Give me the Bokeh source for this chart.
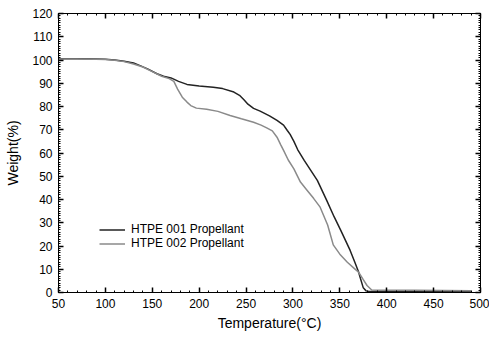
from bokeh.plotting import figure
from bokeh.models import (Range1d, LinearAxis, SingleIntervalTicker, Legend, LegendItem,
                          CustomLabelingPolicy)
from bokeh.embed import file_html
from bokeh.resources import INLINE

# ---- data ----
temp_001 = [50, 70, 90, 100, 110, 120, 130, 137, 145, 155, 162, 170, 178, 187, 200, 215, 225,
            237, 243, 248, 252, 258, 265, 275, 283, 290, 294, 297, 301, 305, 312, 319, 326,
            336, 344, 351, 361, 366, 370, 372, 375, 378, 381, 385, 400, 430, 460, 490]
weight_001 = [100.5, 100.5, 100.4, 100.3, 100.0, 99.5, 98.7, 97.6, 96.2, 94.1, 93.0, 92.3,
              90.8, 89.5, 88.8, 88.3, 87.7, 86.2, 84.8, 82.8, 81.0, 79.2, 78.0, 76.0, 74.0,
              72.0, 69.7, 68.0, 65.0, 61.5, 56.8, 52.5, 48.2, 39.6, 32.5, 26.7, 18.1, 13.0,
              8.8, 6.0, 2.0, 0.7, 0.4, 0.4, 0.5, 0.5, 0.5, 0.4]

temp_002 = [50, 70, 90, 100, 110, 120, 130, 140, 150, 160, 168, 173, 177, 182, 187, 191, 197,
            208, 220, 233, 245, 258, 266, 272, 278, 283, 287, 290, 295, 301, 308, 315, 322,
            329, 337, 343, 350, 358, 365, 370, 375, 379, 384, 390, 400, 430, 460, 490]
weight_002 = [100.4, 100.4, 100.3, 100.2, 99.9, 99.3, 98.3, 97.0, 95.0, 93.0, 92.0, 90.8,
              87.5, 84.0, 81.9, 80.4, 79.3, 78.8, 77.9, 76.1, 74.7, 73.2, 72.0, 70.8, 69.5,
              66.8, 63.5, 61.1, 57.0, 53.2, 47.5, 44.0, 40.5, 36.7, 29.0, 20.5, 16.5, 13.0,
              10.5, 8.7, 5.5, 3.0, 1.1, 1.0, 1.0, 1.0, 0.9, 0.8]

series_names = ["HTPE 001 Propellant", "HTPE 002 Propellant"]
x_label = "Temperature(°C)"
y_label = "Weight(%)"

FONT = "Liberation Sans"

p = figure(width=489, height=337, output_backend="svg", toolbar_location=None,
           x_range=Range1d(50, 500), y_range=Range1d(0, 120),
           x_axis_location=None, y_axis_location=None,
           min_border_left=58, min_border_right=9, min_border_top=13, min_border_bottom=45)
p.grid.visible = False
p.outline_line_color = "black"
p.outline_line_width = 1
p.background_fill_color = "white"
p.border_fill_color = "white"


def make_axis(kind, show_labels):
    if kind == "x":
        ticker = SingleIntervalTicker(interval=50, num_minor_ticks=5)
    else:
        ticker = SingleIntervalTicker(interval=10, num_minor_ticks=10)
    ax = LinearAxis(ticker=ticker)
    ax.axis_line_color = "black"
    ax.axis_line_width = 1
    ax.major_tick_in = 5
    ax.major_tick_out = 0
    ax.minor_tick_in = 2
    ax.minor_tick_out = 0
    ax.major_tick_line_color = "black"
    ax.major_tick_line_width = 1.5
    ax.minor_tick_line_color = "black"
    ax.major_label_text_font = FONT
    ax.major_label_text_color = "black"
    if show_labels:
        ax.major_label_text_font_size = "12px"
        ax.major_label_standoff = 6
        ax.axis_label_text_font = FONT
        ax.axis_label_text_font_size = "14px"
        ax.axis_label_text_font_style = "normal"
        ax.axis_label_text_color = "black"
    else:
        ax.major_label_text_font_size = "1px"
        ax.major_label_standoff = 0
        ax.major_label_policy = CustomLabelingPolicy(code="return;")
    return ax


bx = make_axis("x", True)
bx.axis_label = x_label
bx.axis_label_standoff = 4
ly = make_axis("y", True)
ly.axis_label = y_label
ly.axis_label_standoff = 8
tx = make_axis("x", False)
ry = make_axis("y", False)
p.add_layout(bx, "below")
p.add_layout(ly, "left")
p.add_layout(tx, "above")
p.add_layout(ry, "right")

r1 = p.line(temp_001, weight_001, line_color="#222222", line_width=1.5)
r2 = p.line(temp_002, weight_002, line_color="#8a8a8a", line_width=1.5)

legend = Legend(items=[LegendItem(label=series_names[0], renderers=[r1]),
                       LegendItem(label=series_names[1], renderers=[r2])],
                location=(41, 42), border_line_color=None, background_fill_alpha=0,
                padding=0, margin=0, spacing=0, glyph_width=26, glyph_height=13,
                label_height=13, label_standoff=6, label_text_font=FONT,
                label_text_font_size="12px", label_text_color="black")
p.add_layout(legend, "center")

open("out.html", "w").write(file_html(p, INLINE))
